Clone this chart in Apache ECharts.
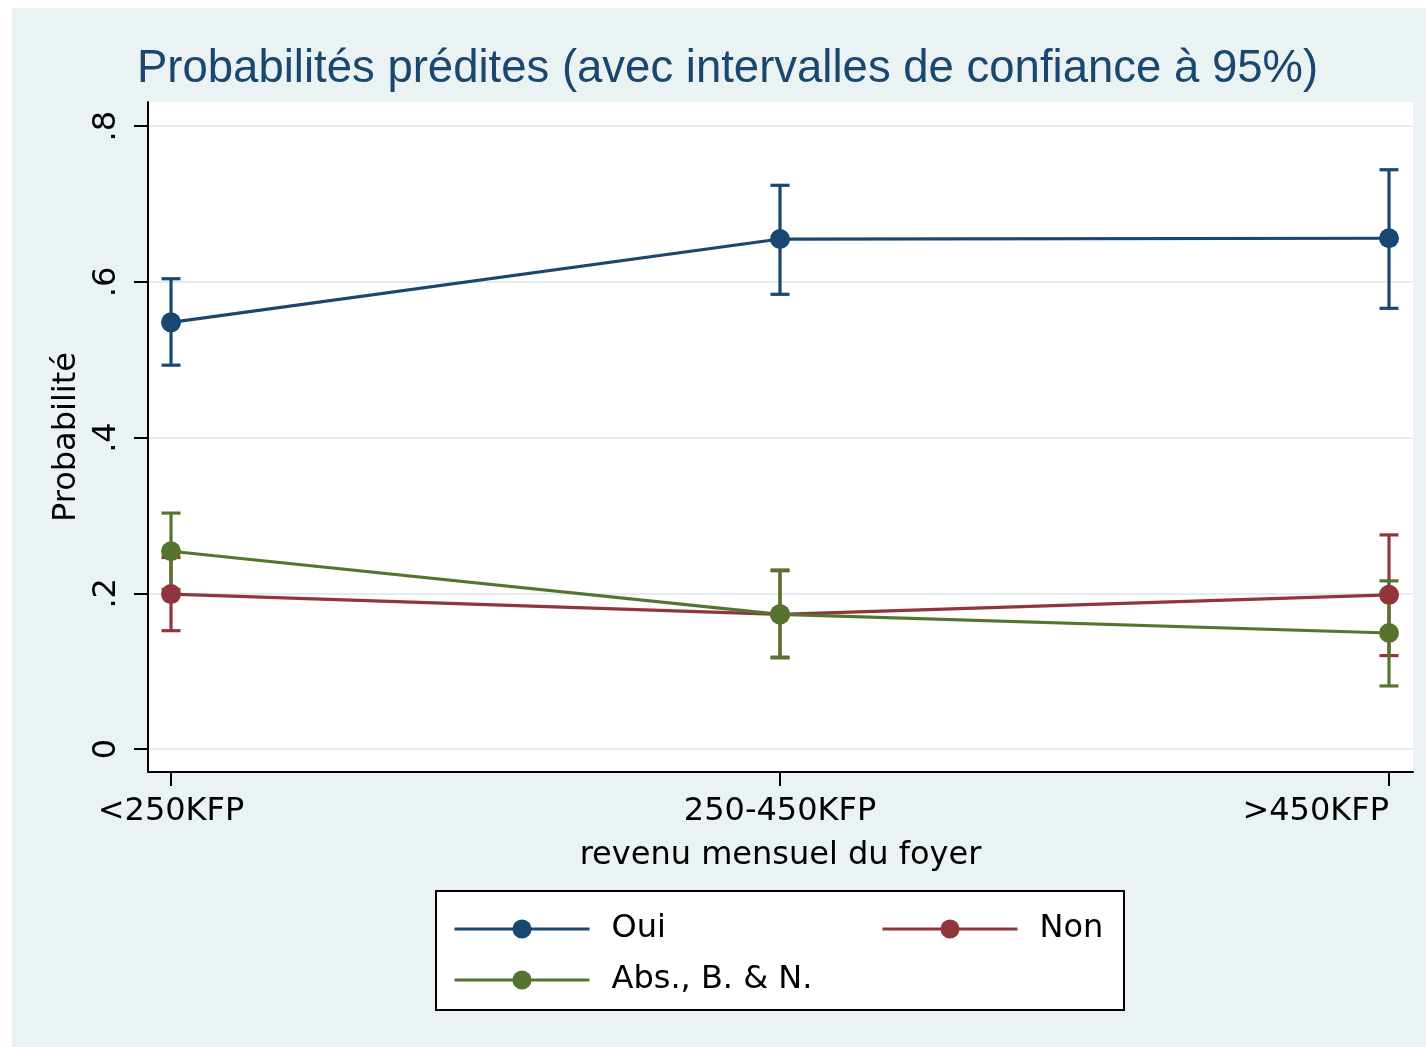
<!DOCTYPE html>
<html>
<head>
<meta charset="utf-8">
<script src="https://cdn.jsdelivr.net/npm/echarts@6/dist/echarts.min.js"></script>
<style>
  html, body { margin: 0; padding: 0; background: #fff; }
  #chart { width: 1426px; height: 1047px; }
</style>
</head>
<body>
<div id="chart"></div>
<script>
// categories and tick values
const categories = ['<250KFP', '250-450KFP', '>450KFP'];
const yTicks = [0, 0.2, 0.4, 0.6, 0.8];
const xTicks = [0, 1, 2];

// predicted probabilities with 95% CI
const ouiMean = [0.548, 0.655, 0.656];
const ouiLow = [0.493, 0.584, 0.566];
const ouiHigh = [0.604, 0.724, 0.744];

const nonMean = [0.199, 0.173, 0.198];
const nonLow = [0.152, 0.118, 0.120];
const nonHigh = [0.246, 0.229, 0.275];

const absMean = [0.254, 0.173, 0.149];
const absLow = [0.205, 0.117, 0.081];
const absHigh = [0.303, 0.230, 0.216];

const FONT = 'DejaVu Sans';
const colors = { oui: '#1a476f', non: '#90353b', abs: '#55752f' };

function points(vals) {
  return vals.map((v, i) => [i, v]);
}
function bars(lo, hi) {
  return lo.map((v, i) => [i, v, hi[i]]);
}

// error bar drawn with caps
function ciSeries(name, lo, hi, color) {
  return {
    name: name + ' IC',
    type: 'custom',
    z: 2,
    silent: true,
    data: bars(lo, hi),
    renderItem: (params, api) => {
      const top = api.coord([api.value(0), api.value(2)]);
      const bot = api.coord([api.value(0), api.value(1)]);
      const half = 9.5;
      const style = { stroke: color, lineWidth: 3.2 };
      return {
        type: 'group',
        children: [
          { type: 'line', shape: { x1: top[0], y1: top[1], x2: bot[0], y2: bot[1] }, style },
          { type: 'line', shape: { x1: top[0] - half, y1: top[1], x2: top[0] + half, y2: top[1] }, style },
          { type: 'line', shape: { x1: bot[0] - half, y1: bot[1], x2: bot[0] + half, y2: bot[1] }, style }
        ]
      };
    }
  };
}

function lineSeries(name, vals, color) {
  return {
    name: name,
    type: 'line',
    z: 3,
    data: points(vals),
    symbol: 'circle',
    symbolSize: 20,
    itemStyle: { color: color },
    lineStyle: { color: color, width: 3.2 },
    emphasis: { disabled: true }
  };
}

function legendItem(name, left, top) {
  return {
    data: [name],
    left: left,
    top: top,
    itemWidth: 135,
    itemHeight: 24,
    padding: 0,
    selectedMode: false,
    lineStyle: { width: 3 },
    textStyle: { fontFamily: FONT, fontSize: 32, color: '#000', padding: [0, 0, 0, 17] }
  };
}

const myChart = echarts.init(document.getElementById('chart'));

const option = {
  backgroundColor: '#fff',
  animation: false,
  graphic: [
    {
      type: 'rect', z: -10, silent: true,
      shape: { x: 12, y: 8, width: 1414, height: 1039 },
      style: { fill: '#eaf2f3' }
    },
    {
      type: 'rect', z: 3, silent: true,
      shape: { x: 436, y: 891, width: 688, height: 119 },
      style: { fill: '#fff', stroke: '#000', lineWidth: 2 }
    }
  ],
  title: {
    text: 'Probabilités prédites (avec intervalles de confiance à 95%)',
    left: 137,
    top: 46,
    padding: 0,
    textStyle: { fontFamily: 'Liberation Sans', fontSize: 45.5, fontWeight: 'normal', color: '#1a476f' }
  },
  legend: [
    legendItem('Oui', 453, 913),
    legendItem('Non', 881, 913),
    legendItem('Abs., B. & N.', 453, 964)
  ],
  grid: {
    left: 148, right: 13, top: 102, bottom: 275,
    show: true, backgroundColor: '#fff', borderWidth: 0
  },
  xAxis: {
    type: 'value',
    min: -0.0378,
    max: 2.0394,
    name: 'revenu mensuel du foyer',
    nameLocation: 'middle',
    nameGap: 68,
    nameTextStyle: { fontFamily: FONT, fontSize: 32, color: '#000' },
    axisLine: { show: true, onZero: false, lineStyle: { color: '#000', width: 2 } },
    axisTick: { show: true, length: 14, customValues: xTicks, lineStyle: { color: '#000', width: 2 } },
    axisLabel: {
      customValues: xTicks,
      margin: 24,
      fontFamily: FONT, fontSize: 32, color: '#000',
      alignMaxLabel: 'right',
      formatter: v => categories[Math.round(v)]
    },
    splitLine: { show: false }
  },
  yAxis: {
    type: 'value',
    min: -0.0295,
    max: 0.831,
    name: 'Probabilité',
    nameLocation: 'middle',
    nameRotate: 90,
    nameGap: 63,
    nameTextStyle: { fontFamily: FONT, fontSize: 32, color: '#000' },
    axisLine: { show: true, onZero: false, lineStyle: { color: '#000', width: 2 } },
    axisTick: { show: true, length: 14, customValues: yTicks, lineStyle: { color: '#000', width: 2 } },
    axisLabel: {
      customValues: yTicks,
      rotate: 90,
      margin: 25,
      fontFamily: FONT, fontSize: 32, color: '#000',
      formatter: v => (v === 0 ? '0' : '.' + Math.round(v * 10))
    },
    splitLine: { show: true, lineStyle: { color: '#e3ecee', width: 2 } }
  },
  series: [
    ciSeries('Oui', ouiLow, ouiHigh, colors.oui),
    ciSeries('Non', nonLow, nonHigh, colors.non),
    ciSeries('Abs., B. & N.', absLow, absHigh, colors.abs),
    lineSeries('Oui', ouiMean, colors.oui),
    lineSeries('Non', nonMean, colors.non),
    lineSeries('Abs., B. & N.', absMean, colors.abs)
  ]
};

myChart.setOption(option);
</script>
</body>
</html>
